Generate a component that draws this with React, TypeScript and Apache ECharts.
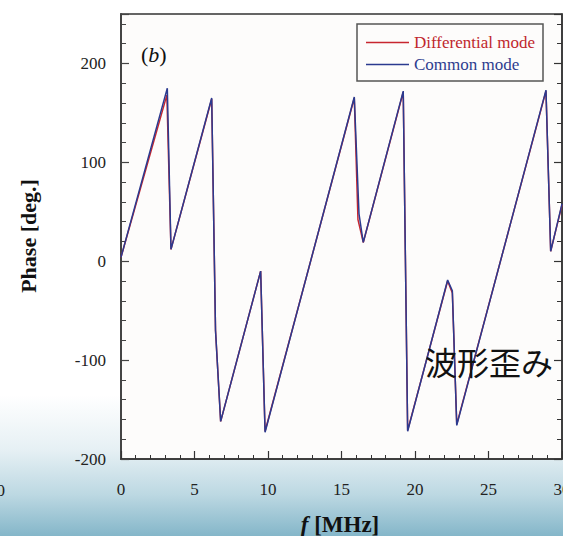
import React, { useEffect, useRef } from "react";
import * as echarts from "echarts";

// Frequency [MHz] / phase [deg.] vertices
const freqCommon = [0, 3.15, 3.4, 6.17, 6.43, 6.78, 9.5, 9.8, 15.87, 16.19, 16.48, 19.2, 19.5, 22.22, 22.54, 22.84, 28.91, 29.23, 30];
const phaseCommon = [4, 175, 12, 165, -70, -162, -10, -173, 166, 48, 19, 172, -172, -19, -30, -166, 173, 10, 58];

const freqDiff = [0, 3.12, 3.4, 6.17, 6.43, 6.78, 9.5, 9.8, 15.87, 16.12, 16.48, 19.2, 19.5, 22.22, 22.54, 22.84, 28.91, 29.23, 30];
const phaseDiff = [4, 168, 12, 164, -70, -162, -10, -172, 165, 42, 19, 171, -171, -20, -32, -165, 172, 10, 57];

const seriesNames = ["Differential mode", "Common mode"];
const xTicks = { min: 0, max: 30, step: 5 };
const yTicks = { min: -200, max: 250, step: 100, minor: 20 };

const SERIF = "'Liberation Serif', 'Times New Roman', serif";
const RED = "#c8262f";
const BLUE = "#2b3a8f";
const AXIS = "#333";

export default function App() {
  const ref = useRef<HTMLDivElement>(null);
  useEffect(() => {
    if (!ref.current) return;
    const chart = echarts.init(ref.current, undefined, { renderer: "svg" });
    const diffData = freqDiff.map((f, i) => [f, phaseDiff[i]]);
    const commonData = freqCommon.map((f, i) => [f, phaseCommon[i]]);
    const yBase = { type: "value", min: yTicks.min, max: yTicks.max, splitLine: { show: false } } as any;
    chart.setOption({
      animation: false,
      grid: {
        left: 121, right: 1, top: 14, bottom: 77,
        outerBoundsMode: "none", containLabel: false,
        show: true, borderColor: AXIS, borderWidth: 1.5, backgroundColor: "#fdfcfb",
      },
      legend: {
        orient: "vertical", left: 357, top: 24,
        padding: [10, 8, 8, 9], itemGap: 5, itemWidth: 43, itemHeight: 1.5,
        icon: "rect", borderColor: "#555", borderWidth: 1.5, backgroundColor: "#fdfcfb",
        textStyle: { fontFamily: SERIF, fontSize: 17, padding: [0, 0, 0, 0] },
        data: [
          { name: seriesNames[0], textStyle: { color: "#c0272d" } },
          { name: seriesNames[1], textStyle: { color: "#2e3d8f" } },
        ],
      },
      xAxis: {
        type: "value", min: xTicks.min, max: xTicks.max, interval: xTicks.step,
        axisLine: { show: true, onZero: false, lineStyle: { color: AXIS, width: 1.5 } },
        axisTick: { show: true, inside: true, length: 8, lineStyle: { color: AXIS, width: 1.2 } },
        minorTick: { show: true, splitNumber: 5, length: 4, lineStyle: { color: AXIS, width: 1 } },
        axisLabel: { margin: 22, fontFamily: SERIF, fontSize: 17, color: "#222" },
        splitLine: { show: false },
      },
      yAxis: [
        {
          ...yBase, position: "left", interval: yTicks.step,
          axisLine: { show: true, onZero: false, lineStyle: { color: "#444", width: 2 } },
          axisTick: { show: true, inside: true, length: 8, lineStyle: { color: "#444", width: 1.2 } },
          axisLabel: {
            margin: 15, fontFamily: SERIF, fontSize: 17, color: "#222",
            formatter: (v: number) => (v % 100 === 0 && v <= 200 ? String(v) : ""),
          },
        },
        {
          ...yBase, position: "left", interval: yTicks.minor,
          axisLine: { show: false, onZero: false },
          axisTick: { show: true, inside: true, length: 5, lineStyle: { color: "#444", width: 1 } },
          axisLabel: { show: false },
        },
        {
          ...yBase, position: "right", interval: yTicks.step,
          axisLine: { show: true, onZero: false, lineStyle: { color: AXIS, width: 1.5 } },
          axisTick: { show: true, inside: true, length: 8, lineStyle: { color: AXIS, width: 1.2 } },
          axisLabel: { show: false },
        },
        {
          ...yBase, position: "right", interval: yTicks.minor,
          axisLine: { show: false, onZero: false },
          axisTick: { show: true, inside: true, length: 5, lineStyle: { color: AXIS, width: 1 } },
          axisLabel: { show: false },
        },
      ],
      series: [
        {
          name: seriesNames[0], type: "line", data: diffData, symbol: "none",
          color: RED, lineStyle: { color: RED, width: 1.5 }, z: 2,
        },
        {
          name: seriesNames[1], type: "line", data: commonData, symbol: "none",
          color: BLUE, lineStyle: { color: BLUE, width: 1.5 }, z: 3,
        },
      ],
      graphic: [
        {
          type: "text", x: 28, y: 236, rotation: Math.PI / 2,
          style: {
            text: "Phase [deg.]", fontFamily: SERIF, fontSize: 22, fontWeight: "bold",
            fill: "#111", align: "center", verticalAlign: "middle",
          },
        },
        {
          type: "text", x: 340, y: 524,
          style: {
            text: "{i|f} [MHz]", fontFamily: SERIF, fontSize: 23, fontWeight: "bold",
            fill: "#111", align: "center", verticalAlign: "middle",
            rich: { i: { fontFamily: SERIF, fontSize: 23, fontWeight: "bold", fontStyle: "italic", fill: "#111" } },
          },
        },
        {
          type: "text", x: 141, y: 54,
          style: {
            text: "({i|b})", fontFamily: SERIF, fontSize: 22, fill: "#111",
            align: "left", verticalAlign: "middle",
            rich: { i: { fontFamily: SERIF, fontSize: 22, fontStyle: "italic", fill: "#111" } },
          },
        },
        {
          type: "text", x: 489, y: 361, z: 100,
          style: {
            text: "波形歪み", fontFamily: "'Noto Sans CJK JP', sans-serif", fontSize: 32,
            fill: "#111", align: "center", verticalAlign: "middle",
          },
        },
        {
          type: "text", x: 5, y: 490,
          style: {
            text: "30", fontFamily: SERIF, fontSize: 17, fill: "#222",
            align: "right", verticalAlign: "middle",
          },
        },
      ],
    });
    return () => chart.dispose();
  }, []);
  return (
    <div
      style={{
        position: "fixed", left: 0, top: 0, width: 563, height: 536,
        background: "linear-gradient(to bottom, #ffffff 0px, #ffffff 395px, #e6f0f4 450px, #bcd8e2 495px, #84b6c9 536px)",
      }}
    >
      <div ref={ref} style={{ width: 563, height: 536 }} />
    </div>
  );
}
